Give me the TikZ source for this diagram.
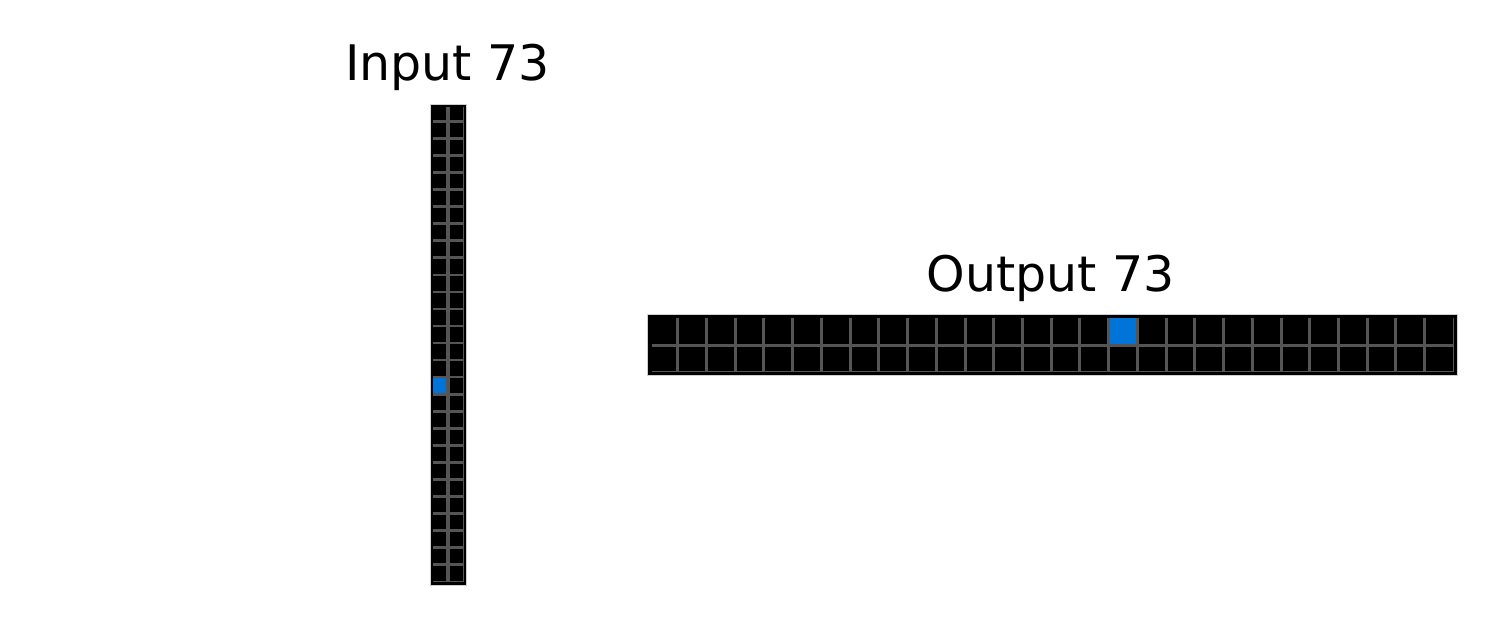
\documentclass[tikz,border=0pt]{standalone}
\usepackage{fontspec}
\setmainfont{DejaVu Sans}
\definecolor{gridgrey}{HTML}{555555}
\definecolor{arcblue}{HTML}{0074D9}
\definecolor{edgegrey}{HTML}{D0D0D0}
\tikzset{
  board/.style={fill=black, draw=edgegrey, line width=1pt},
  gline/.style={draw=gridgrey, line width=3pt},
  thinline/.style={draw=gridgrey, line width=1pt},
  title/.style={font=\fontsize{49}{55}\selectfont, anchor=base, inner sep=0pt},
}
\begin{document}
\begin{tikzpicture}[x=1pt,y=-1pt]
\useasboundingbox (0,0) rectangle (1500,629);
% Input grid
\node[title] (intitle) at (447.5,80) {Input 73};
\path[board] (430,104) rectangle (466,585);
\fill[arcblue] (432.7,104.6+16*17.03) rectangle (448,104.6+17*17.03);
\foreach \k in {1,...,27} \draw[gline, line width=2.8pt] (432.7,104.6+\k*17.03) -- (463.3,104.6+\k*17.03);
\draw[gline, line width=3.2pt] (448,107) -- (448,582);
\draw[thinline] (463.3,107) -- (463.3,582);
\draw[thinline] (432.7,581.7) -- (463.3,581.7);
% Output grid
\node[title] (outtitle) at (1050.8,291) {Output 73};
\path[board] (647,314) rectangle (1457,375);
\fill[arcblue] (649+16*28.73,318) rectangle (649+17*28.73,345);
\foreach \k in {1,...,27} \draw[gline] (649+\k*28.73,317.7) -- (649+\k*28.73,372);
\draw[thinline] (1453.3,317.7) -- (1453.3,372);
\draw[gline] (651.7,345) -- (1453.3,345);
\draw[thinline] (651.7,371.5) -- (1453.3,371.5);
\end{tikzpicture}
\end{document}
